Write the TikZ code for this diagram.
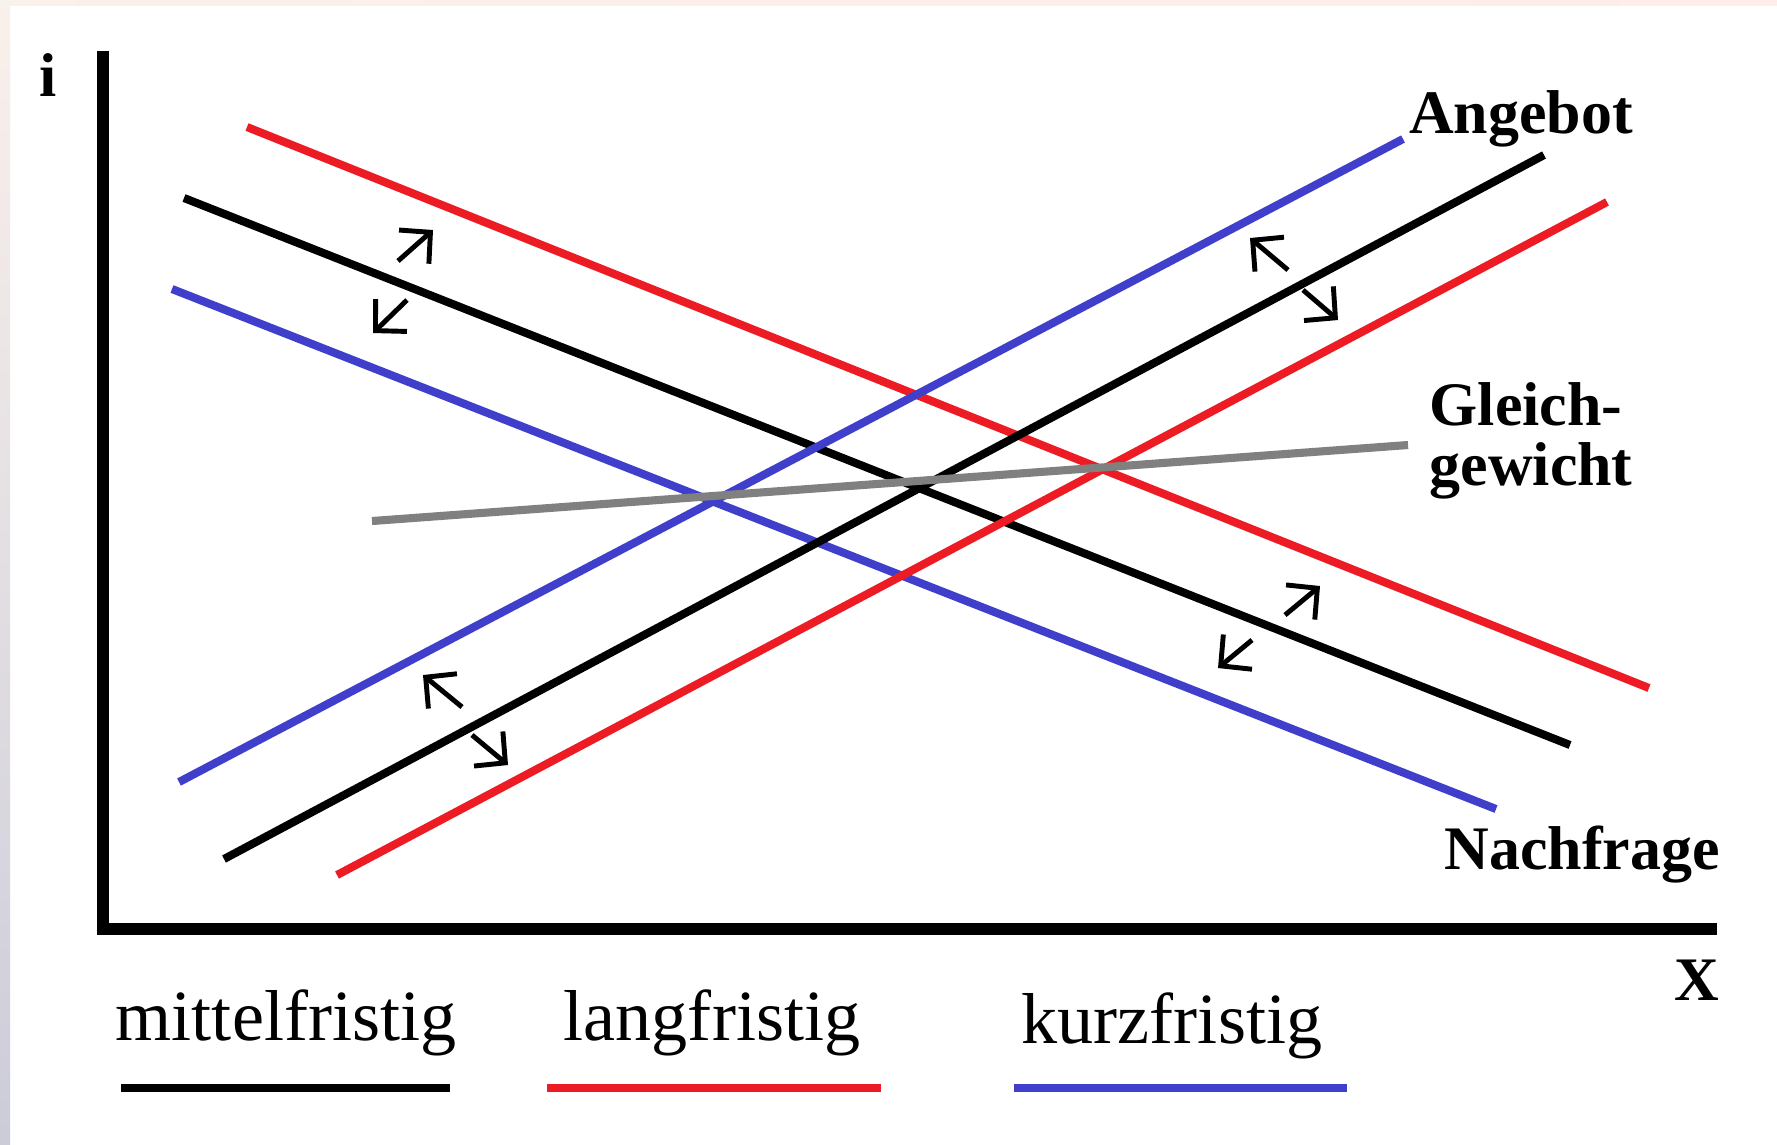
\documentclass[tikz,border=0pt]{standalone}
\usepackage{fontspec}
\setmainfont{Liberation Serif}
\usetikzlibrary{arrows.meta}
\definecolor{redline}{RGB}{237,28,36}
\definecolor{blueline}{RGB}{63,63,204}
\definecolor{grayline}{RGB}{128,128,128}

\begin{document}
\begin{tikzpicture}[x=0.01cm, y=-0.01cm,
  curve/.style={line width=2.3pt},
  axis/.style={line width=3.3pt, line join=miter},
  shiftarr/.style={line width=1.4pt, -{Straight Barb[length=2.2mm, width=4.5mm]}},
  lbl/.style={font=\fontsize{17.6}{17}\selectfont\bfseries, anchor=base},
  leg/.style={font=\fontsize{20.5}{24}\selectfont, anchor=base},
  legline/.style={line width=2.1pt}
]
  \useasboundingbox (0,0) rectangle (1777,1144);
  \fill[white] (0,0) rectangle (1777,1144);
  \shade[top color=red!12!brown!10, bottom color=blue!15!gray!35] (0,0) rectangle (10,1144);
  \shade[left color=red!12!brown!10, right color=orange!10!red!8] (0,0) rectangle (1777,5);

  % axes
  \draw[axis] (103,51) -- (103,929) -- (1717,929);
  \node[lbl] (yname) at (48,96) {i};
  \node[lbl] (xname) at (1697,1000) {X};

  % Nachfrage
  \draw[curve, redline] (247,127) -- (1649,688);
  \draw[curve] (184,198) -- (1570,745);
  \draw[curve, blueline] (172,289) -- (1496,809);
  % Angebot
  \draw[curve, blueline] (179,782) -- (1403,139);
  \draw[curve] (224,859) -- (1544,155);
  \draw[curve, redline] (337,875) -- (1607,202);
  % Gleichgewicht
  \draw[curve, grayline] (372,521) -- (1408,445);

  \node[lbl] (angebot) at (1521,133) {Angebot};
  \node[lbl] (nachfrage) at (1582,869) {Nachfrage};
  \node[lbl, anchor=base west, inner xsep=0pt] (gleich) at (1429,425) {Gleich-};
  \node[lbl, anchor=base west, inner xsep=0pt] (gewicht) at (1429,485) {gewicht};

  % Verschiebungen
  \draw[shiftarr] (398,261) -- (433,230);
  \draw[shiftarr] (407,300) -- (373,333);
  \draw[shiftarr] (1288,270) -- (1250,238);
  \draw[shiftarr] (1303,290) -- (1338,320);
  \draw[shiftarr] (462,707) -- (423,675);
  \draw[shiftarr] (472,735) -- (508,765);
  \draw[shiftarr] (1285,615) -- (1320,586);
  \draw[shiftarr] (1252,640) -- (1218,668);

  % Legende
  \node[leg] (mittel) at (286,1040) {mittelfristig};
  \node[leg] (lang) at (712,1040) {langfristig};
  \node[leg] (kurz) at (1172,1043) {kurzfristig};
  \draw[legline] (121,1088) -- (450,1088);
  \draw[legline, redline] (547,1088) -- (881,1088);
  \draw[legline, blueline] (1014,1088) -- (1347,1088);
\end{tikzpicture}
\end{document}
